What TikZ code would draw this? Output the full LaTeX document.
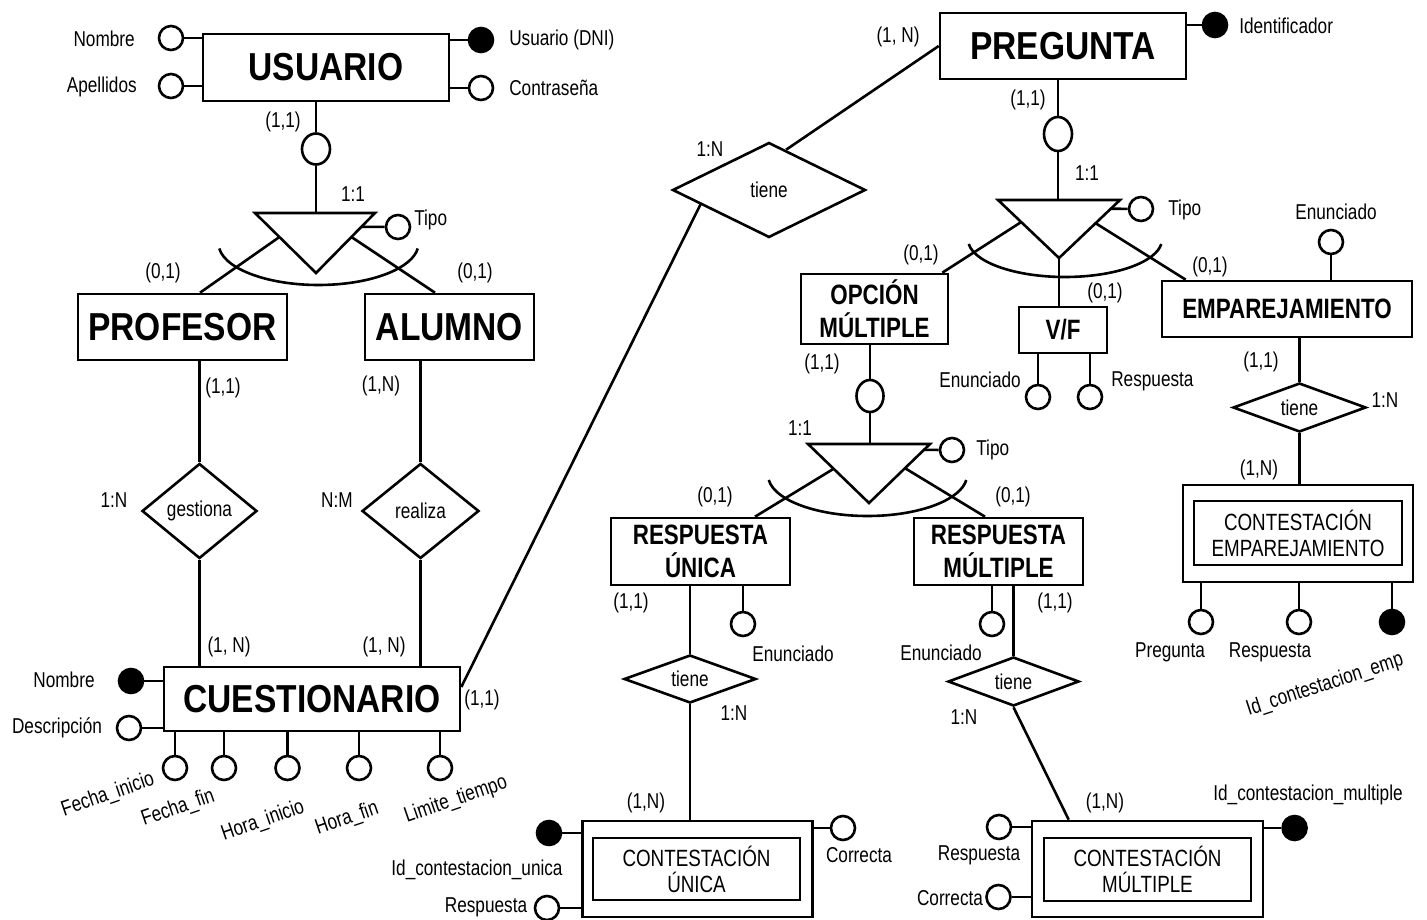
\documentclass[tikz,border=0pt]{standalone}
\usepackage{fontspec}
\setmainfont{Liberation Sans}[FakeStretch=0.8]
\newfontfamily\bigfont{Liberation Sans}[FakeStretch=0.86]
\usetikzlibrary{shapes.geometric,calc}
\tikzset{
  ent/.style={draw, rectangle, inner sep=0pt, font=\bigfont\fontsize{39}{42}\selectfont\bfseries},
  entm/.style={draw, rectangle, inner sep=0pt, align=center, font=\fontsize{28}{33}\selectfont\bfseries},
  weakbox/.style={draw, rectangle, inner sep=0pt},
  weaktxt/.style={align=center, font=\fontsize{23.5}{26}\selectfont},
  rel/.style={draw, diamond, inner sep=0pt},
  attr/.style={draw, circle, inner sep=0pt, minimum size=24pt, fill=white},
  keyattr/.style={attr, fill=black},
  joint/.style={draw, ellipse, inner sep=0pt, minimum width=28pt, minimum height=31pt},
  lbl/.style={inner sep=0pt, font=\fontsize{21.5}{23}\selectfont},
}
\begin{document}
\begin{tikzpicture}[x=1pt,y=-1pt,line width=2.6pt]
\useasboundingbox (0,0) rectangle (1427,920);

% ---------------- entities ----------------
\node[ent, minimum width=246pt, minimum height=67pt] (usuario) at (326,67.5) {USUARIO};
\node[ent, minimum width=209pt, minimum height=66pt] (profesor) at (182.5,327) {PROFESOR};
\node[ent, minimum width=169pt, minimum height=66pt] (alumno) at (449.5,327) {ALUMNO};
\node[ent, minimum width=296pt, minimum height=64pt] (cuest) at (312,699) {CUESTIONARIO};
\node[ent, minimum width=246pt, minimum height=66pt] (pregunta) at (1063,46) {PREGUNTA};
\node[entm, minimum width=147pt, minimum height=70pt] (opcion) at (874.5,309) {OPCIÓN\\MÚLTIPLE};
\node[entm, minimum width=88pt, minimum height=46pt] (vf) at (1063,330) {V/F};
\node[entm, minimum width=250pt, minimum height=56pt] (empar) at (1287,309) {EMPAREJAMIENTO};
\node[entm, minimum width=179pt, minimum height=67pt] (runica) at (700.5,551.5) {RESPUESTA\\ÚNICA};
\node[entm, minimum width=169pt, minimum height=67pt] (rmult) at (998.5,551.5) {RESPUESTA\\MÚLTIPLE};

% weak entities (double frame)
\node[weakbox, minimum width=230pt, minimum height=96pt] (cu) at (697.75,869) {};
\node[weakbox, weaktxt, inner sep=0pt, minimum width=207pt, minimum height=62pt] (cu_in) at (696.5,869) {CONTESTACIÓN\\ÚNICA};
\node[weakbox, minimum width=231pt, minimum height=96pt] (cm) at (1147.5,869) {};
\node[weakbox, weaktxt, inner sep=0pt, minimum width=207pt, minimum height=63pt] (cm_in) at (1147.5,869.5) {CONTESTACIÓN\\MÚLTIPLE};
\node[weakbox, minimum width=230pt, minimum height=97pt] (ce) at (1298,533.5) {};
\node[weakbox, weaktxt, inner sep=0pt, minimum width=208pt, minimum height=64pt] (ce_in) at (1298,533) {CONTESTACIÓN\\EMPAREJAMIENTO};

% ---------------- relationships ----------------
\node[rel, minimum width=115pt, minimum height=95pt, label={[lbl]center:gestiona}] (gest) at (199.5,511) {};
\node[rel, minimum width=117pt, minimum height=95pt, label={[lbl]center:realiza}] (real) at (420.5,511) {};
\node[rel, minimum width=193pt, minimum height=95pt, label={[lbl]center:tiene}] (t1) at (769,190) {};
\node[rel, minimum width=133pt, minimum height=49pt, label={[lbl]center:tiene}] (temp) at (1299.5,407.5) {};
\node[rel, minimum width=132pt, minimum height=48pt, label={[lbl]center:tiene}] (tru) at (690,679) {};
\node[rel, minimum width=131pt, minimum height=49pt, label={[lbl]center:tiene}] (trm) at (1013.5,681.5) {};

% ---------------- USUARIO attributes ----------------
\node[attr] (u_nom) at (171,38) {};
\node[attr] (u_ape) at (171,86) {};
\node[keyattr] (u_dni) at (481,40) {};
\node[attr] (u_pwd) at (481,88) {};
\node[lbl,anchor=east] (t_u_nom) at (136,39) {Nombre};
\node[lbl,anchor=east] (t_u_ape) at (138,87) {Apellidos};
\node[lbl,anchor=west] (t_u_dni) at (508,40) {Usuario (DNI)};
\node[lbl,anchor=west] (t_u_pwd) at (508,88) {Contraseña};
\draw (u_nom) -- (u_nom -| usuario.west);
\draw (u_ape) -- (u_ape -| usuario.west);
\draw (u_dni) -- (u_dni -| usuario.east);
\draw (u_pwd) -- (u_pwd -| usuario.east);

% ---------------- USUARIO specialisation ----------------
\coordinate (i1l) at (255,213); \coordinate (i1r) at (375,213); \coordinate (i1c) at (316,273);
\draw[line join=miter] (i1l) -- (i1r) -- (i1c) -- cycle;
\node[joint] (u_j) at (316,149) {};
\draw (u_j |- usuario.south) -- (u_j);
\draw (u_j) -- (u_j |- i1l);
\node[attr] (i1_tipo) at (398,227) {};
\draw ($(i1r)!0.23!(i1c)$) -- (i1_tipo);
\node[lbl,anchor=west] (t_i1_tipo) at (413,220) {Tipo};
\draw ($(318.5,243.4)+(173:100 and 41.6)$) arc[start angle=173,end angle=7,x radius=100,y radius=41.6];
\draw ($(i1l)!0.4!(i1c)$) -- ($(profesor.north)+(17.5,0)$);
\draw ($(i1r)!0.4!(i1c)$) -- ($(alumno.north)+(-14.5,0)$);
\node[lbl] (c1) at (283,122) {(1,1)};
\node[lbl] (c2) at (353,194) {1:1};
\node[lbl] (c3) at (163,273) {(0,1)};
\node[lbl] (c4) at (475,273) {(0,1)};

% ---------------- PROFESOR / ALUMNO -- CUESTIONARIO ----------------
\draw (profesor.south -| gest) -- (gest.north);
\draw (gest.south) -- (cuest.north -| gest);
\draw (alumno.south -| real) -- (real.north);
\draw (real.south) -- (cuest.north -| real);
\node[lbl] (c5) at (223,388) {(1,1)};
\node[lbl] (c6) at (114,500) {1:N};
\node[lbl] (c7) at (381,386) {(1,N)};
\node[lbl] (c8) at (337,500) {N:M};
\node[lbl] (c9) at (229,647) {(1, N)};
\node[lbl] (c10) at (384,647) {(1, N)};
\node[lbl] (c11) at (482,700) {(1,1)};

% ---------------- CUESTIONARIO attributes ----------------
\node[keyattr] (q_nom) at (131,681) {};
\node[attr] (q_des) at (129,728) {};
\draw (q_nom) -- (q_nom -| cuest.west);
\draw (q_des) -- (q_des -| cuest.west);
\node[lbl] (t_q_nom) at (64,680) {Nombre};
\node[lbl] (t_q_des) at (57,728) {Descripción};
\node[attr] (q_fi) at (175,768) {};
\node[attr] (q_ff) at (224,768) {};
\node[attr] (q_hi) at (287.5,768) {};
\node[attr] (q_hf) at (359,768) {};
\node[attr] (q_lt) at (440,768) {};
\foreach \a in {q_fi,q_ff,q_hi,q_hf,q_lt} \draw (cuest.south -| \a) -- (\a);
\node[lbl,rotate=19] (t_q_fi) at (108,795) {Fecha\_inicio};
\node[lbl,rotate=19] (t_q_ff) at (178,808) {Fecha\_fin};
\node[lbl,rotate=19] (t_q_hi) at (263,821) {Hora\_inicio};
\node[lbl,rotate=19] (t_q_hf) at (347,819) {Hora\_fin};
\node[lbl,rotate=19] (t_q_lt) at (456,800) {Limite\_tiempo};

% ---------------- CUESTIONARIO -- PREGUNTA ----------------
\draw ($(cuest.east)+(0,-12)$) -- (t1.192);
\draw (t1.67) -- (pregunta.west);
\node[lbl] (c12) at (898,37) {(1, N)};
\node[lbl] (c13) at (710,149) {1:N};

% ---------------- PREGUNTA attributes and specialisation ----------------
\node[keyattr] (p_id) at (1215,25) {};
\draw (p_id) -- (p_id -| pregunta.east);
\node[lbl,anchor=west] (t_p_id) at (1238,26) {Identificador};
\coordinate (i2l) at (998,200); \coordinate (i2r) at (1120,200); \coordinate (i2c) at (1059,258);
\draw[line join=miter] (i2l) -- (i2r) -- (i2c) -- cycle;
\node[joint, minimum height=34pt] (p_j) at (1058,134) {};
\draw (p_j |- pregunta.south) -- (p_j);
\draw (p_j) -- (p_j |- i2l);
\node[attr] (i2_tipo) at (1141,209) {};
\draw ($(i2r)!0.15!(i2c)$) -- (i2_tipo);
\node[lbl,anchor=west] (t_i2_tipo) at (1167,210) {Tipo};
\draw ($(1065,239.4)+(173:97 and 37.6)$) arc[start angle=173,end angle=7,x radius=97,y radius=37.6];
\draw ($(i2l)!0.38!(i2c)$) -- ($(opcion.north east)+(-7,0)$);
\draw (i2c) -- (vf.north -| i2c);
\draw ($(i2r)!0.4!(i2c)$) -- ($(empar.north west)+(25,0)$);
\node[lbl] (c14) at (1028,100) {(1,1)};
\node[lbl] (c15) at (1087,173) {1:1};
\node[lbl] (c16) at (921,255) {(0,1)};
\node[lbl] (c17) at (1105,293) {(0,1)};
\node[lbl] (c18) at (1210,267) {(0,1)};

% ---------------- V/F attributes ----------------
\node[attr] (v_en) at (1038,397) {};
\node[attr] (v_re) at (1090,397) {};
\draw (vf.south -| v_en) -- (v_en);
\draw (vf.south -| v_re) -- (v_re);
\node[lbl,anchor=east] (t_v_en) at (1022,380) {Enunciado};
\node[lbl,anchor=west] (t_v_re) at (1110,381) {Respuesta};

% ---------------- EMPAREJAMIENTO ----------------
\node[attr] (e_en) at (1331,242) {};
\draw (e_en) -- (empar.north -| e_en);
\node[lbl] (t_e_en) at (1336,212) {Enunciado};
\draw (empar.south -| temp) -- (temp.north);
\draw (temp.south) -- (ce.north -| temp);
\node[lbl] (c19) at (1261,362) {(1,1)};
\node[lbl] (c20) at (1385,400) {1:N};
\node[lbl] (c21) at (1259,470) {(1,N)};
\node[attr] (ce_pr) at (1201,622) {};
\node[attr] (ce_re) at (1299,622) {};
\node[keyattr] (ce_id) at (1392,622) {};
\foreach \a in {ce_pr,ce_re,ce_id} \draw (ce.south -| \a) -- (\a);
\node[lbl] (t_ce_pr) at (1170,652) {Pregunta};
\node[lbl] (t_ce_re) at (1270,652) {Respuesta};
\node[lbl,rotate=18] (t_ce_id) at (1325,685) {Id\_contestacion\_emp};

% ---------------- OPCIÓN MÚLTIPLE specialisation ----------------
\coordinate (i3l) at (808,444); \coordinate (i3r) at (930,444); \coordinate (i3c) at (869,503);
\draw[line join=miter] (i3l) -- (i3r) -- (i3c) -- cycle;
\node[joint, minimum width=27pt, minimum height=32pt] (o_j) at (870,396) {};
\draw (o_j |- opcion.south) -- (o_j);
\draw (o_j) -- (o_j |- i3l);
\node[attr] (i3_tipo) at (952,450) {};
\draw ($(i3r)!0.1!(i3c)$) -- (i3_tipo);
\node[lbl,anchor=west] (t_i3_tipo) at (975,450) {Tipo};
\draw ($(867.5,475)+(173:99.5 and 41)$) arc[start angle=173,end angle=7,x radius=99.5,y radius=41];
\draw ($(i3l)!0.42!(i3c)$) -- ($(runica.north)+(54.5,0)$);
\draw ($(i3r)!0.41!(i3c)$) -- ($(rmult.north)+(-13.5,0)$);
\node[lbl] (c22) at (822,364) {(1,1)};
\node[lbl] (c23) at (800,428) {1:1};
\node[lbl] (c24) at (715,497) {(0,1)};
\node[lbl] (c25) at (1013,497) {(0,1)};

% ---------------- RESPUESTA ÚNICA ----------------
\node[attr] (ru_en) at (743,624) {};
\draw (runica.south -| ru_en) -- (ru_en);
\node[lbl] (t_ru_en) at (793,654) {Enunciado};
\draw (runica.south -| tru) -- (tru.north);
\draw (tru.south) -- (cu.north -| tru);
\node[lbl] (c26) at (631,603) {(1,1)};
\node[lbl] (c27) at (734,713) {1:N};
\node[lbl] (c28) at (646,803) {(1,N)};
\node[keyattr] (cu_id) at (549,833) {};
\node[attr] (cu_re) at (547,908) {};
\node[attr] (cu_co) at (843,828) {};
\draw (cu_id) -- (cu_id -| cu.west);
\draw (cu_re) -- (cu_re -| cu.west);
\draw (cu_co) -- (cu_co -| cu.east);
\node[lbl] (t_cu_id) at (477,870) {Id\_contestacion\_unica};
\node[lbl] (t_cu_re) at (486,907) {Respuesta};
\node[lbl] (t_cu_co) at (859,855) {Correcta};

% ---------------- RESPUESTA MÚLTIPLE ----------------
\node[attr] (rm_en) at (992,624) {};
\draw (rmult.south -| rm_en) -- (rm_en);
\node[lbl] (t_rm_en) at (941,653) {Enunciado};
\draw (rmult.south -| trm) -- (trm.north);
\draw (trm.south) -- ($(cm.north west)+(38,0)$);
\node[lbl] (c29) at (1055,603) {(1,1)};
\node[lbl] (c30) at (964,717) {1:N};
\node[lbl] (c31) at (1105,803) {(1,N)};
\node[attr] (cm_re) at (999,827) {};
\node[attr] (cm_co) at (998.5,897) {};
\node[keyattr] (cm_id) at (1294.6,828) {};
\draw (cm_re) -- (cm_re -| cm.west);
\draw (cm_co) -- (cm_co -| cm.west);
\draw (cm_id) -- (cm_id -| cm.east);
\node[lbl] (t_cm_re) at (979,855) {Respuesta};
\node[lbl] (t_cm_co) at (950,898) {Correcta};
\node[lbl] (t_cm_id) at (1308,795) {Id\_contestacion\_multiple};
\end{tikzpicture}
\end{document}
